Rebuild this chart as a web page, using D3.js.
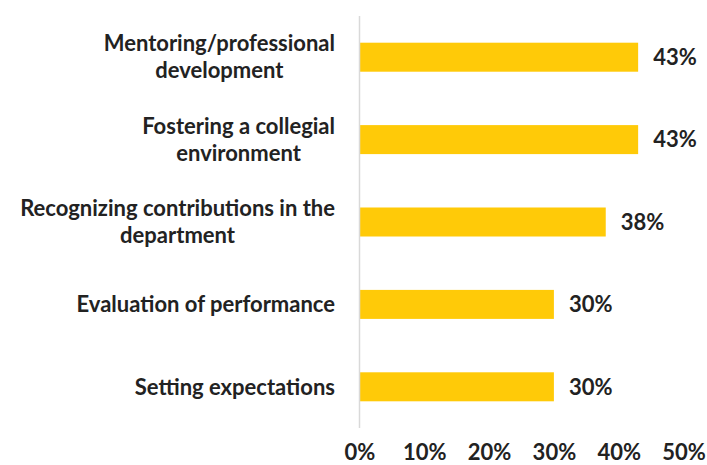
<!DOCTYPE html>
<html>
<head>
<meta charset="utf-8">
<script src="https://cdn.jsdelivr.net/npm/d3@7"></script>
<style>
  body { margin: 0; background: #fff; }
  text { font-family: Lato, "Open Sans", sans-serif; font-weight: bold; fill: #222; }
</style>
</head>
<body>
<div id="chart"></div>
<script>
// chart data
var categories = [
  ["Mentoring/professional", "development"],
  ["Fostering a collegial", "environment"],
  ["Recognizing contributions in the", "department"],
  ["Evaluation of performance"],
  ["Setting expectations"]
];
var values = [43, 43, 38, 30, 30];
var tickValues = [0, 10, 20, 30, 40, 50];

var svgWidth = 707;
var svgHeight = 465;
var fontSize = "22px";

var svg = d3.select("#chart")
  .append("svg")
  .attr("width", svgWidth)
  .attr("height", svgHeight);

// scales
var x = d3.scaleLinear()
  .domain([0, 50])
  .range([359.5, 683.5]);

var y = d3.scaleBand()
  .domain(d3.range(values.length))
  .range([16, 428])
  .paddingInner(0.648)
  .paddingOuter(0.324);

// bars
svg.selectAll("rect.bar")
  .data(values)
  .enter()
  .append("rect")
  .attr("class", "bar")
  .attr("x", x(0))
  .attr("y", (d, i) => y(i))
  .attr("width", d => x(d) - x(0))
  .attr("height", y.bandwidth())
  .attr("fill", "#FFCA08");

// vertical axis line
svg.append("line")
  .attr("x1", x(0)).attr("x2", x(0))
  .attr("y1", 16).attr("y2", 428)
  .attr("stroke", "#d9d9d9")
  .attr("stroke-width", 1.5);

// value labels
svg.selectAll("text.value")
  .data(values)
  .enter()
  .append("text")
  .attr("class", "value")
  .attr("x", d => x(d) + 15)
  .attr("y", (d, i) => y(i) + y.bandwidth() / 2)
  .attr("dy", "0.35em")
  .style("font-size", fontSize)
  .text(d => d + "%");

// x tick labels
var bottomAxis = d3.axisBottom(x)
  .tickValues(tickValues)
  .tickFormat(d => d + "%")
  .tickSize(0)
  .tickPadding(0);

var xg = svg.append("g")
  .attr("transform", "translate(0, 444)")
  .call(bottomAxis);
xg.select(".domain").remove();
xg.selectAll("text")
  .attr("fill", "#222")
  .style("font-family", "Lato, sans-serif")
  .style("font-size", fontSize)
  .style("font-weight", "bold");

// category labels: block right aligned, lines centred inside the block
var labelRight = 335;
var lineHeight = 27;
categories.forEach(function(lines, i) {
  var cy = y(i) + y.bandwidth() / 2;
  var g = svg.append("g");
  var texts = lines.map(function(line, j) {
    return g.append("text")
      .attr("y", cy + (j - (lines.length - 1) / 2) * lineHeight)
      .attr("dy", "0.35em")
      .attr("text-anchor", "middle")
      .style("font-size", fontSize)
      .text(line);
  });
  var blockW = d3.max(texts, t => t.node().getComputedTextLength());
  texts.forEach(t => t.attr("x", labelRight - blockW / 2));
});
</script>
</body>
</html>
